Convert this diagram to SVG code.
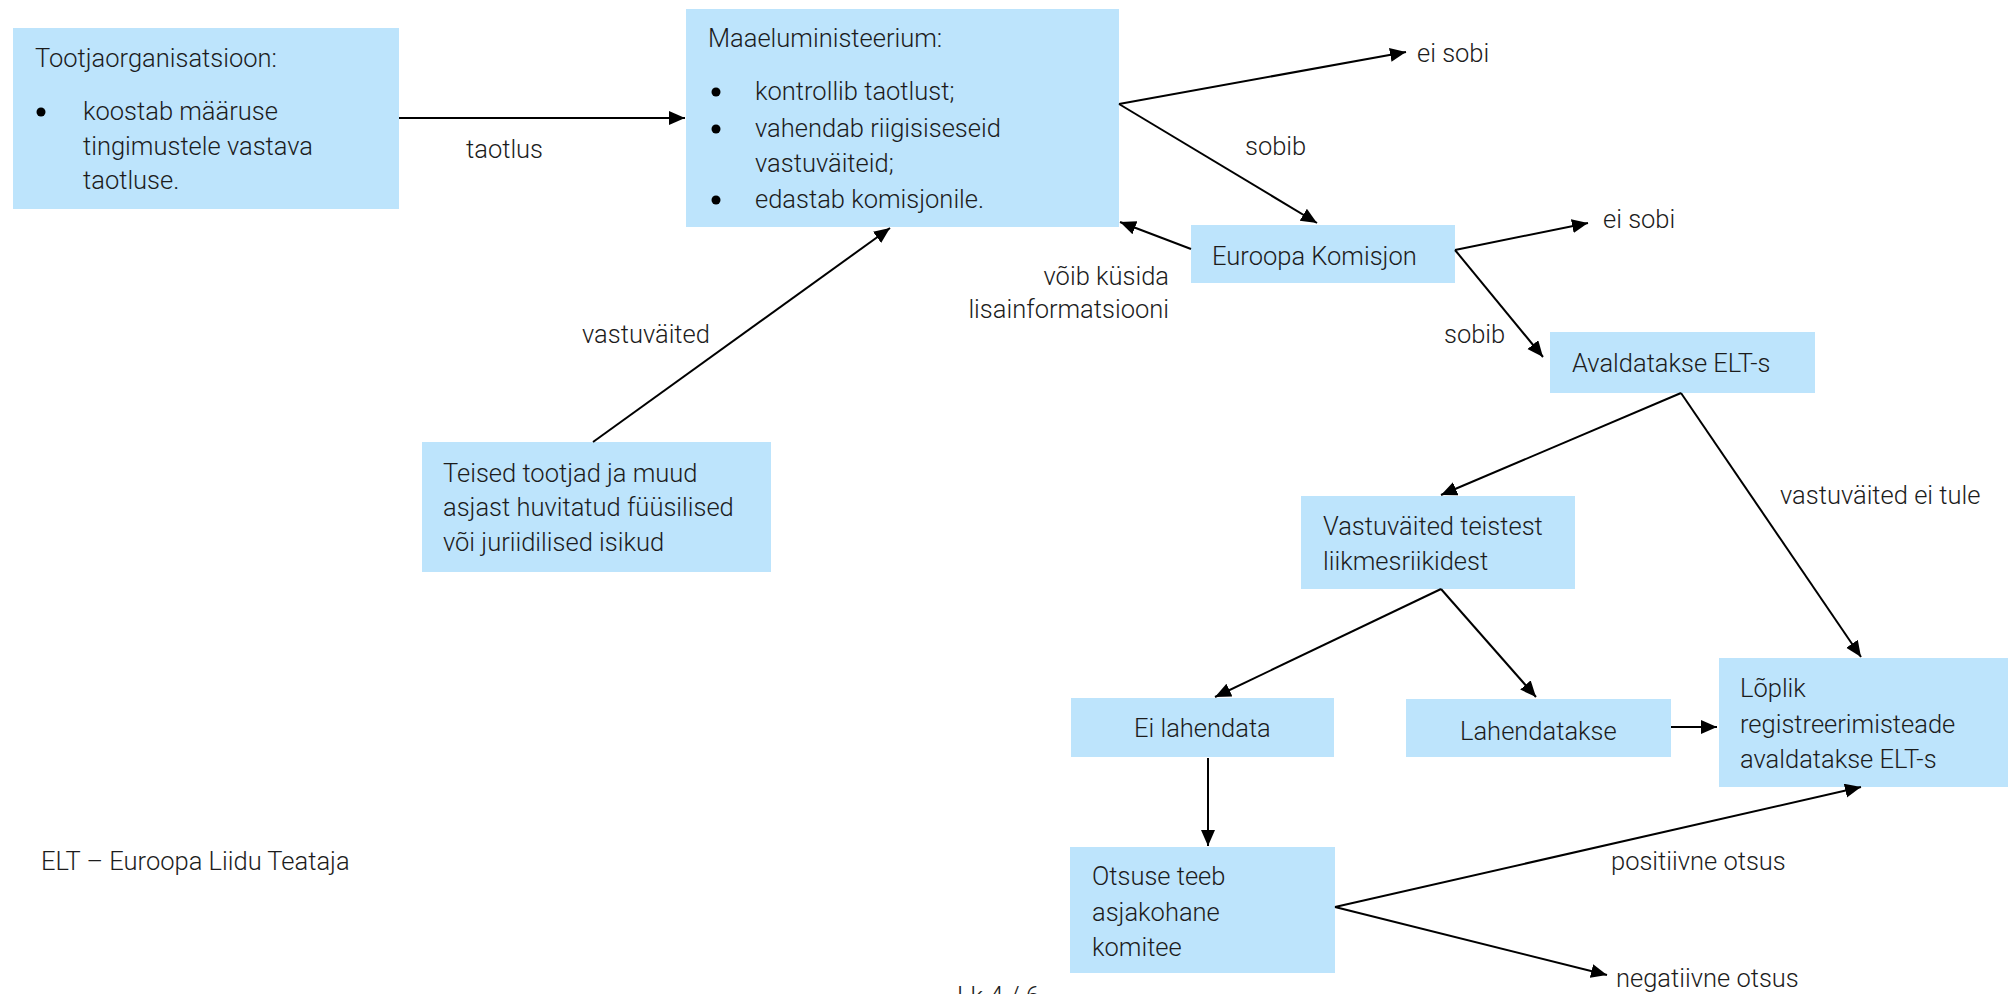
<svg xmlns="http://www.w3.org/2000/svg" width="2011" height="994" viewBox="0 0 2011 994">
<style>
text{font-family:Roboto,"Liberation Sans",sans-serif;font-weight:300;font-size:25.5px;fill:#1c1c1c}
.box{fill:#bde4fc}
.c line{stroke:#000;stroke-width:2;marker-end:url(#ah)}
.e{text-anchor:end}
</style>
<defs>
<marker id="ah" markerUnits="userSpaceOnUse" markerWidth="17" markerHeight="15" refX="16" refY="7" orient="auto">
<path d="M0,0 L16,7 L0,14 z" fill="#000"/>
</marker>
</defs>
<rect width="2011" height="994" fill="#fff"/>

<g id="n-tootja">
<rect class="box" x="13" y="28" width="386" height="181"/>
<text x="35" y="67">Tootjaorganisatsioon:</text>
<circle cx="41" cy="112" r="4.5"/>
<text x="83" y="120">koostab määruse</text>
<text x="83" y="155">tingimustele vastava</text>
<text x="83" y="189">taotluse.</text>
</g>

<g id="n-maaelu">
<rect class="box" x="686" y="9" width="433" height="218"/>
<text x="708" y="47">Maaeluministeerium:</text>
<circle cx="716" cy="92" r="4.5"/>
<text x="755" y="100">kontrollib taotlust;</text>
<circle cx="716" cy="129" r="4.5"/>
<text x="755" y="137">vahendab riigisiseseid</text>
<text x="755" y="172">vastuväiteid;</text>
<circle cx="716" cy="200" r="4.5"/>
<text x="755" y="208">edastab komisjonile.</text>
</g>

<g id="n-teised">
<rect class="box" x="422" y="442" width="349" height="130"/>
<text x="443" y="482">Teised tootjad ja muud</text>
<text x="443" y="516">asjast huvitatud füüsilised</text>
<text x="443" y="551">või juriidilised isikud</text>
</g>

<g id="n-ek">
<rect class="box" x="1191" y="225" width="264" height="58"/>
<text x="1212" y="265">Euroopa Komisjon</text>
</g>

<g id="n-avald">
<rect class="box" x="1550" y="332" width="265" height="61"/>
<text x="1572" y="372">Avaldatakse ELT-s</text>
</g>

<g id="n-vastu">
<rect class="box" x="1301" y="496" width="274" height="93"/>
<text x="1323" y="535">Vastuväited teistest</text>
<text x="1323" y="570">liikmesriikidest</text>
</g>

<g id="n-eilah">
<rect class="box" x="1071" y="698" width="263" height="59"/>
<text x="1134" y="737">Ei lahendata</text>
</g>

<g id="n-lah">
<rect class="box" x="1406" y="699" width="265" height="58"/>
<text x="1460" y="740">Lahendatakse</text>
</g>

<g id="n-loplik">
<rect class="box" x="1719" y="658" width="289" height="129"/>
<text x="1740" y="697">Lõplik</text>
<text x="1740" y="733">registreerimisteade</text>
<text x="1740" y="768">avaldatakse ELT-s</text>
</g>

<g id="n-otsus">
<rect class="box" x="1070" y="847" width="265" height="126"/>
<text x="1092" y="885">Otsuse teeb</text>
<text x="1092" y="921">asjakohane</text>
<text x="1092" y="956">komitee</text>
</g>

<g id="connectors" class="c">
<line x1="399" y1="118" x2="685" y2="118"/>
<line x1="1119" y1="104" x2="1406" y2="52"/>
<line x1="1119" y1="104" x2="1317" y2="223"/>
<line x1="1191" y1="249" x2="1120" y2="222"/>
<line x1="593" y1="442" x2="890" y2="228"/>
<line x1="1455" y1="250" x2="1588" y2="223"/>
<line x1="1455" y1="250" x2="1543" y2="357"/>
<line x1="1681" y1="393" x2="1441" y2="495"/>
<line x1="1681" y1="393" x2="1861" y2="657"/>
<line x1="1441" y1="589" x2="1215" y2="697"/>
<line x1="1441" y1="589" x2="1536" y2="697"/>
<line x1="1671" y1="727" x2="1717" y2="727"/>
<line x1="1208" y1="758" x2="1208" y2="846"/>
<line x1="1335" y1="907" x2="1861" y2="787"/>
<line x1="1335" y1="907" x2="1607" y2="975"/>
</g>

<g id="labels">
<text x="466" y="158">taotlus</text>
<text x="1417" y="62">ei sobi</text>
<text x="1245" y="155">sobib</text>
<text class="e" x="1169" y="285">võib küsida</text>
<text class="e" x="1169" y="318">lisainformatsiooni</text>
<text x="582" y="343">vastuväited</text>
<text x="1603" y="228">ei sobi</text>
<text x="1444" y="343">sobib</text>
<text x="1780" y="504">vastuväited ei tule</text>
<text x="1611" y="870">positiivne otsus</text>
<text x="1616" y="987">negatiivne otsus</text>
<text x="41" y="870">ELT – Euroopa Liidu Teataja</text>
<text x="957" y="1005">Lk 4 / 6</text>
</g>
</svg>
